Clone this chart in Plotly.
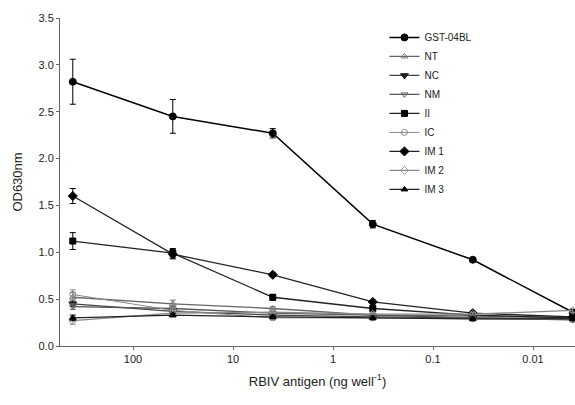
import plotly.graph_objects as go

conc = [400, 40, 4, 0.4, 0.04, 0.004]
tick_vals = [100, 10, 1, 0.1, 0.01]
tick_text = ["100", "10", "1", "0.1", "0.01"]

names = ["GST-04BL", "NT", "NC", "NM", "II", "IC", "IM 1", "IM 2", "IM 3"]
gst = [2.82, 2.45, 2.27, 1.30, 0.92, 0.36]
gst_err = [0.24, 0.18, 0.05, 0.04, 0.02, 0.02]
nt = [0.52, 0.45, 0.40, 0.33, 0.32, 0.30]
nt_err = [0.05, 0.04, 0.02, 0.02, 0.02, 0.02]
nc = [0.45, 0.37, 0.33, 0.31, 0.30, 0.29]
nc_err = [0.03, 0.02, 0.02, 0.02, 0.02, 0.02]
nm = [0.42, 0.40, 0.35, 0.33, 0.30, 0.28]
nm_err = [0.03, 0.02, 0.02, 0.02, 0.02, 0.02]
ii = [1.12, 0.99, 0.52, 0.40, 0.33, 0.30]
ii_err = [0.09, 0.05, 0.03, 0.02, 0.02, 0.02]
ic = [0.55, 0.38, 0.30, 0.30, 0.29, 0.28]
ic_err = [0.05, 0.03, 0.02, 0.02, 0.02, 0.02]
im1 = [1.60, 0.98, 0.76, 0.47, 0.35, 0.31]
im1_err = [0.08, 0.05, 0.02, 0.02, 0.02, 0.02]
im2 = [0.27, 0.35, 0.36, 0.34, 0.34, 0.38]
im2_err = [0.04, 0.03, 0.02, 0.02, 0.02, 0.02]
im3 = [0.30, 0.33, 0.31, 0.30, 0.29, 0.29]
im3_err = [0.03, 0.02, 0.02, 0.02, 0.02, 0.02]

series = [
    (gst, gst_err, "circle", "black", "black", 7, 1.5),
    (nt, nt_err, "triangle-up-open", "#777", "#666", 6, 1.3),
    (nc, nc_err, "triangle-down", "#222", "#444", 7, 1.3),
    (nm, nm_err, "triangle-down-open", "#666", "#555", 6, 1.3),
    (ii, ii_err, "square", "black", "#222", 6, 1.3),
    (ic, ic_err, "circle-open", "#888", "#888", 6, 1.0),
    (im1, im1_err, "diamond", "black", "#222", 7, 1.3),
    (im2, im2_err, "diamond-open", "#999", "#888", 6, 1.3),
    (im3, im3_err, "triangle-up", "black", "#222", 6, 1.3),
]

fig = go.Figure()
for name, (vals, errs, sym, mcol, lcol, msz, lw) in zip(names, series):
    fig.add_trace(go.Scatter(
        x=conc, y=vals, name=name, mode="lines+markers",
        marker=dict(symbol=sym, color=mcol, size=msz, line=dict(color=mcol, width=1)),
        line=dict(color=lcol, width=lw),
        error_y=dict(type="data", array=errs, color=mcol, thickness=1, width=3),
        cliponaxis=False,
    ))

fig.update_layout(
    width=575, height=405,
    margin=dict(l=60, r=0, t=18, b=59),
    paper_bgcolor="white", plot_bgcolor="white",
    font=dict(family="Liberation Sans, Arial, sans-serif", color="#222", size=11),
    showlegend=True,
    legend=dict(x=0.63, y=0.985, xanchor="left", yanchor="top",
                font=dict(size=10, color="#222"), tracegroupgap=0,
                bgcolor="rgba(0,0,0,0)"),
    xaxis=dict(type="log", range=[2.73, -2.42], tickvals=tick_vals, ticktext=tick_text,
               showgrid=False, zeroline=False, showline=True, linecolor="#666", linewidth=1,
               ticks="outside", ticklen=3, tickcolor="#666",
               title=dict(text="RBIV antigen (ng well<sup>-1</sup>)", font=dict(size=13), standoff=12)),
    yaxis=dict(range=[0, 3.5], tickvals=[0, 0.5, 1.0, 1.5, 2.0, 2.5, 3.0, 3.5],
               tickformat=".1f",
               showgrid=False, zeroline=False, showline=True, linecolor="#666", linewidth=1,
               ticks="outside", ticklen=3, tickcolor="#666",
               title=dict(text="OD630nm", font=dict(size=13), standoff=12)),
)

fig.write_html("out.html", config={"displayModeBar": False},
               post_script="document.body.style.margin='0';document.body.style.overflow='hidden';")
